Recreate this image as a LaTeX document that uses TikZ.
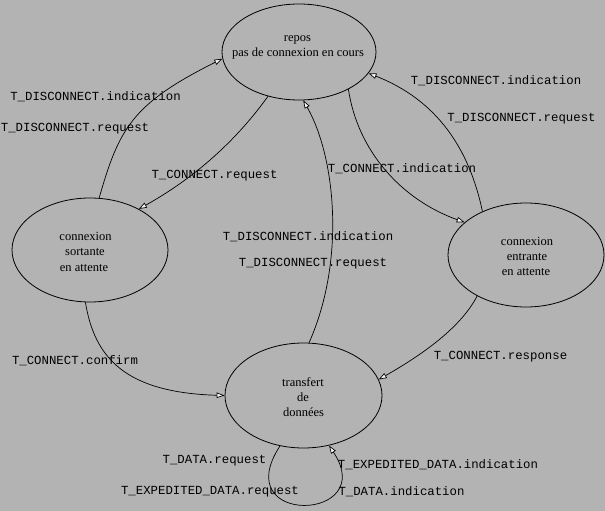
\documentclass[tikz,border=0pt]{standalone}
\usepackage{fontspec}
\setmainfont{Liberation Serif}
\setmonofont{Liberation Mono}
\usetikzlibrary{arrows.meta,shapes.geometric}
\definecolor{bg}{RGB}{179,179,179}
\begin{document}
\begin{tikzpicture}[x=1pt,y=1pt,
  state/.style={ellipse,draw,line width=0.8pt,inner sep=0pt,minimum width=156pt,minimum height=104pt},
  txt/.style={anchor=base,inner sep=0pt,font=\fontsize{12.5}{15}\selectfont},
  lbl/.style={anchor=base,inner sep=0pt,font=\ttfamily\fontsize{12.35}{14}\selectfont},
  edge/.style={draw,line width=0.7pt,-{Triangle[length=8pt,width=5.5pt,fill=white]}}]
\fill[bg] (0,0) rectangle (605,-511);
\useasboundingbox (0,0) rectangle (605,-511);
% states
\node[state,minimum width=154pt,minimum height=96pt] (repos) at (299,-52) {};
\node[state] (sortante) at (90,-250) {};
\node[state] (entrante) at (526,-255) {};
\node[state,minimum width=157pt,minimum height=105pt] (transfert) at (303.5,-395.5) {};
% state texts
\node[txt] (reposA) at (297.5,-42) {repos};
\node[txt] (reposB) at (298,-57) {pas de connexion en cours};
\node[txt] (sortA) at (85.5,-240) {connexion};
\node[txt] (sortB) at (85,-255.5) {sortante};
\node[txt] (sortC) at (84,-271) {en attente};
\node[txt] (entA) at (527,-245) {connexion};
\node[txt] (entB) at (527,-260) {entrante};
\node[txt] (entC) at (526,-275) {en attente};
\node[txt] (trA) at (303,-386) {transfert};
\node[txt] (trB) at (303,-401) {de};
\node[txt] (trC) at (303.5,-416.5) {données};
% connectors
\draw[edge] (sortante.80) .. controls +(20,70) and +(-90,-45) .. (repos.185);
\draw[edge] (repos.235) .. controls +(-23,-32) and +(68,38) .. (sortante.40);
\draw[edge] (sortante.265) .. controls +(9,-55) and +(-100,3) .. (transfert.180);
\draw[edge] (transfert.84) .. controls +(37,83) and +(32,-56) .. (repos.275);
\draw[edge] (repos.323) .. controls +(9,-61) and +(-64,23) .. (entrante.152);
\draw[edge] (entrante.135) .. controls +(-13,62) and +(69,-27) .. (repos.343);
\draw[edge] (entrante.220) .. controls +(-18,-35) and +(35,20) .. (transfert.12);
\draw[edge] (transfert.245) .. controls +(-53,-81) and +(51,-76) .. (transfert.297);
% labels
\node[lbl] (l1) at (95.5,-100) {T\_DISCONNECT.indication};
\node[lbl] (l2) at (75,-131) {T\_DISCONNECT.request};
\node[lbl] (l3) at (214.5,-178) {T\_CONNECT.request};
\node[lbl] (l4) at (402,-172.5) {T\_CONNECT.indication};
\node[lbl] (l5) at (496,-84.3) {T\_DISCONNECT.indication};
\node[lbl] (l6) at (521.5,-121) {T\_DISCONNECT.request};
\node[lbl] (l7) at (308,-240) {T\_DISCONNECT.indication};
\node[lbl] (l8) at (313,-266.7) {T\_DISCONNECT.request};
\node[lbl] (l9) at (75,-364.3) {T\_CONNECT.confirm};
\node[lbl] (l10) at (500.5,-359.3) {T\_CONNECT.response};
\node[lbl] (l11) at (214.5,-463.3) {T\_DATA.request};
\node[lbl] (l12) at (210,-494) {T\_EXPEDITED\_DATA.request};
\node[lbl] (l13) at (438,-468.3) {T\_EXPEDITED\_DATA.indication};
\node[lbl] (l14) at (401.5,-495) {T\_DATA.indication};
\end{tikzpicture}
\end{document}
